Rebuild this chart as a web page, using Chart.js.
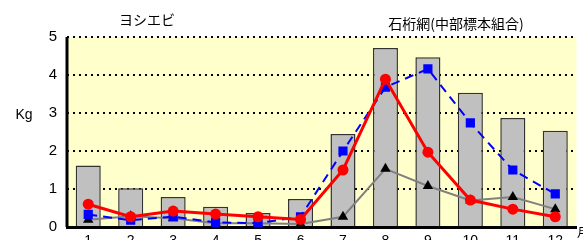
<!DOCTYPE html>
<html>
<head>
<meta charset="utf-8">
<script src="https://cdn.jsdelivr.net/npm/chart.js@4/dist/chart.umd.min.js"></script>
<style>
  html, body { margin: 0; padding: 0; background: #fff; overflow: hidden; }
  #wrap { width: 583px; height: 252px; }
</style>
</head>
<body>
<div id="wrap"><canvas id="chart" width="583" height="252"></canvas></div>
<script>
// 月
const months = ["1", "2", "3", "4", "5", "6", "7", "8", "9", "10", "11", "12"];
// 棒グラフ (灰色)
const barValues = [1.62, 1.02, 0.79, 0.53, 0.37, 0.74, 2.45, 4.71, 4.47, 3.53, 2.87, 2.53];
// 青 (四角、破線)
const blueValues = [0.33, 0.18, 0.27, 0.12, 0.1, 0.27, 2.0, 3.68, 4.16, 2.74, 1.5, 0.87];
// 赤 (丸)
const redValues = [0.6, 0.27, 0.42, 0.34, 0.27, 0.2, 1.5, 3.89, 1.97, 0.71, 0.47, 0.27];
// 灰色 (三角)
const grayValues = [0.19, 0.28, 0.23, 0.1, 0.1, 0.08, 0.27, 1.53, 1.08, 0.7, 0.79, 0.47];
const yTicks = [0, 1, 2, 3, 4, 5];

const fontFamily = "'Liberation Sans', Arial, sans-serif";

// 背景とテキスト
const extras = {
  id: "extras",
  beforeDraw(chart) {
    const { ctx, chartArea: a } = chart;
    ctx.save();
    ctx.fillStyle = "#FFFFCC";
    ctx.fillRect(a.left, a.top, a.right - a.left, a.bottom - a.top);
    ctx.restore();
  },
  beforeDatasetsDraw(chart) {
    // 左の軸線 (実線)
    const { ctx, chartArea: a } = chart;
    ctx.save();
    ctx.strokeStyle = "#000";
    ctx.lineWidth = 3;
    ctx.beginPath();
    ctx.moveTo(a.left, a.top);
    ctx.lineTo(a.left, a.bottom);
    ctx.stroke();
    ctx.restore();
  },
  afterDraw(chart) {
    const ctx = chart.ctx;
    ctx.save();
    ctx.fillStyle = "#000";
    ctx.textBaseline = "middle";
    ctx.textAlign = "center";
    ctx.font = "14px 'Noto Sans CJK JP', sans-serif";
    ctx.fillText("ヨシエビ", 147, 20);
    ctx.fillText("石桁網(中部標本組合)", 456, 24);
    ctx.font = "14px " + fontFamily;
    ctx.fillText("Kg", 24, 115);
    ctx.font = "12px 'Noto Sans CJK JP', sans-serif";
    ctx.textAlign = "left";
    ctx.fillText("月", 577, 232);
    ctx.restore();
  }
};

new Chart(document.getElementById("chart"), {
  data: {
    labels: months,
    datasets: [
      {
        type: "line",
        data: redValues,
        borderColor: "#FF0000",
        backgroundColor: "#FF0000",
        borderWidth: 3,
        pointStyle: "circle",
        pointRadius: 5.5,
        pointBorderWidth: 0,
        tension: 0,
        order: 1,
      },
      {
        type: "line",
        data: blueValues,
        borderColor: "#0000FF",
        backgroundColor: "#0000FF",
        borderWidth: 2,
        borderDash: [9, 6],
        pointStyle: "rect",
        pointRadius: 6.5,
        pointBorderWidth: 0,
        tension: 0,
        order: 2,
      },
      {
        type: "line",
        data: grayValues,
        borderColor: "#808080",
        backgroundColor: "#000000",
        borderWidth: 2,
        pointStyle: "triangle",
        pointRadius: 6,
        pointBorderWidth: 0,
        tension: 0,
        order: 3,
      },
      {
        type: "bar",
        data: barValues,
        backgroundColor: "#C0C0C0",
        borderColor: "#333333",
        borderWidth: 1.5,
        categoryPercentage: 1,
        barPercentage: 0.59,
        order: 4,
      },
    ],
  },
  options: {
    responsive: false,
    animation: false,
    layout: { padding: { top: 37, right: 5, left: 0, bottom: 0 } },
    plugins: {
      legend: { display: false },
      tooltip: { enabled: false },
    },
    scales: {
      x: {
        offset: true,
        grid: { display: false, drawTicks: false },
        border: { color: "#000", width: 3 },
        ticks: { color: "#000", font: { size: 14, family: fontFamily }, padding: 6 },
        afterFit: (scale) => { scale.height = 25; },
      },
      y: {
        min: 0,
        max: 5,
        afterBuildTicks: (scale) => { scale.ticks = yTicks.map((v) => ({ value: v })); },
        grid: {
          color: (c) => (c.tick && c.tick.value === 0 ? "rgba(0,0,0,0)" : "#000"),
          lineWidth: 2,
          drawTicks: false,
        },
        border: { display: false, dash: [2, 4] },
        ticks: { color: "#000", font: { size: 15, family: fontFamily }, padding: 10 },
        afterFit: (scale) => { scale.width = 67; },
      },
    },
  },
  plugins: [extras],
});
</script>
</body>
</html>
